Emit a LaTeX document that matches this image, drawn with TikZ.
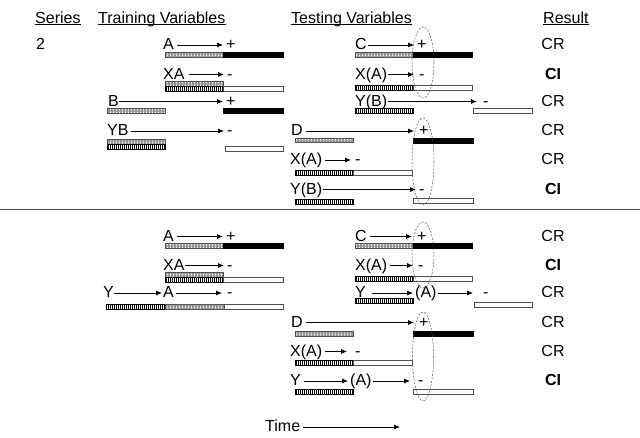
\documentclass[tikz,border=0pt]{standalone}
\usepackage{fontspec}
\setmainfont{Liberation Sans}
\usetikzlibrary{arrows.meta,patterns.meta}
\definecolor{cuegray}{RGB}{150,150,150}
\definecolor{rimgray}{RGB}{80,80,80}

\begin{document}
\begin{tikzpicture}[x=1pt, y=-1pt,
  font=\fontsize{16}{19}\selectfont,
  lbl/.style={inner sep=0pt, anchor=west, text height=9pt, text depth=0pt},
  res/.style={inner sep=0pt, text height=9pt, text depth=0pt},
  hdr/.style={inner sep=0pt, anchor=base west, text height=11.5pt, text depth=1.6pt},
  arr/.style={-{Latex[length=6pt,width=5pt]}, line width=0.75pt, shorten <=3pt, shorten >=3pt},
  cuebar/.style={draw=rimgray, line width=0.5pt, preaction={fill=white},
              pattern={Hatch[distance=1.5pt,line width=0.3pt]}, pattern color=cuegray},
  tgtbar/.style={draw=black, line width=0.5pt, preaction={fill=white},
              pattern={Lines[angle=90,distance=2pt,line width=1pt]}, pattern color=black},
  posbar/.style={draw=black, fill=black},
  negbar/.style={draw=rimgray, line width=0.6pt, fill=white},
  ringline/.style={draw=rimgray, dash pattern=on 2pt off 1.5pt, line width=0.5pt}
]
\useasboundingbox (0,0) rectangle (640,437);

\node[hdr] (hSer) at (35,23) {Series};
\node[hdr] (hTr) at (98,23) {Training Variables};
\node[hdr] (hTe) at (291,23) {Testing Variables};
\node[hdr] (hRes) at (543,23) {Result};
\draw[line width=0.8pt] (hSer.south west) -- (hSer.south east);
\draw[line width=0.8pt] (hTr.south west) -- (hTr.south east);
\draw[line width=0.8pt] (hTe.south west) -- (hTe.south east);
\draw[line width=0.8pt] (hRes.south west) -- (hRes.south east);
\node[lbl] (ser) at (36,45) {2};

\node[lbl] (utr1) at (163,45) {A};
\node[lbl] (utr1m) at (226,45) {+};
\node[lbl] (utr2) at (163,74.5) {XA};
\node[lbl] (utr2m) at (227,74.5) {-};
\node[lbl] (utr3) at (108,101.5) {B};
\node[lbl] (utr3m) at (226,101.5) {+};
\node[lbl] (utr4) at (107,131) {YB};
\node[lbl] (utr4m) at (227,131) {-};

\node[lbl] (ute1) at (355,45) {C};
\node[lbl] (ute1m) at (417,45) {+};
\node[lbl] (ute2) at (355,74.5) {X(A)};
\node[lbl] (ute2m) at (419,74.5) {-};
\node[lbl] (ute3) at (355,101.5) {Y(B)};
\node[lbl] (ute3m) at (483,101.5) {-};
\node[lbl] (ute4) at (291,131) {D};
\node[lbl] (ute4m) at (419,131) {+};
\node[lbl] (ute5) at (290,160) {X(A)};
\node[lbl] (ute5m) at (355,160) {-};
\node[lbl] (ute6) at (290,189.5) {Y(B)};
\node[lbl] (ute6m) at (419,189.5) {-};

\node[res] (ures1) at (553,45) {CR};
\node[res, font=\fontsize{16}{19}\selectfont\bfseries] (ures2) at (553,74.5) {CI};
\node[res] (ures3) at (553,101.5) {CR};
\node[res] (ures4) at (553,131) {CR};
\node[res] (ures5) at (553,160) {CR};
\node[res, font=\fontsize{16}{19}\selectfont\bfseries] (ures6) at (553,189.5) {CI};

\draw[arr] (utr1) -- (utr1m);
\draw[arr, shorten <=4pt] (utr2) -- (utr2m);
\draw[arr, shorten <=0pt] (utr3) -- (utr3m);
\draw[arr, shorten <=2pt] (utr4) -- (utr4m);
\draw[arr, shorten <=1pt] (ute1) -- (ute1m);
\draw[arr, shorten <=1pt, shorten >=5pt] (ute2) -- (ute2m);
\draw[arr, shorten <=1pt, shorten >=6pt] (ute3) -- (ute3m);
\draw[arr, shorten >=5pt] (ute4) -- (ute4m);
\draw[arr, shorten >=4pt] (ute5) -- (ute5m);
\draw[arr, shorten <=1pt] (ute6) -- (ute6m);

\draw[cuebar] (165,52) rectangle (223,57);
\draw[posbar] (223,52) rectangle (283,57);
\draw[cuebar] (165,81.5) rectangle (223,86.5);
\draw[tgtbar] (165,86.5) rectangle (223,91.5);
\draw[negbar] (223,86.5) rectangle (283,91.5);
\draw[cuebar] (107,108) rectangle (165,113);
\draw[posbar] (223,108) rectangle (283,113);
\draw[cuebar] (107,139.5) rectangle (165,144);
\draw[tgtbar] (107,144) rectangle (165,149);
\draw[negbar] (225,146) rectangle (283,151);

\draw[cuebar] (355,52) rectangle (413,57);
\draw[posbar] (413,52) rectangle (472,57);
\draw[tgtbar] (355,85) rectangle (413,90);
\draw[negbar] (413,85) rectangle (472,90);
\draw[tgtbar] (355,108) rectangle (413,113);
\draw[negbar] (473,108.5) rectangle (532,113.5);
\draw[cuebar] (295,138) rectangle (353,142.5);
\draw[posbar] (413,138) rectangle (473,143);
\draw[tgtbar] (295,170) rectangle (353,175);
\draw[negbar] (353,170) rectangle (412,175);
\draw[tgtbar] (295,199) rectangle (353,204);
\draw[negbar] (413,198.5) rectangle (473,203.5);

\draw[ringline] (423,62.5) ellipse [x radius=11, y radius=35.5];
\draw[ringline] (423,161.5) ellipse [x radius=11, y radius=43.5];

\draw[draw=rimgray, line width=1pt] (0,209.5) -- (640,209.5);

\node[lbl] (ltr1) at (163,236.5) {A};
\node[lbl] (ltr1m) at (226,236.5) {+};
\node[lbl] (ltr2) at (163,265.5) {XA};
\node[lbl] (ltr2m) at (227,265.5) {-};
\node[lbl] (ltr3) at (103,293) {Y};
\node[lbl] (ltr3a) at (163,293) {A};
\node[lbl] (ltr3m) at (227,293) {-};

\node[lbl] (lte1) at (355,236.5) {C};
\node[lbl] (lte1m) at (417,236.5) {+};
\node[lbl] (lte2) at (355,265.5) {X(A)};
\node[lbl] (lte2m) at (418,265.5) {-};
\node[lbl] (lte3) at (355,293) {Y};
\node[lbl] (lte3a) at (415,293) {(A)};
\node[lbl] (lte3m) at (483,293) {-};
\node[lbl] (lte4) at (291,322.5) {D};
\node[lbl] (lte4m) at (419,322.5) {+};
\node[lbl] (lte5) at (290,351.5) {X(A)};
\node[lbl] (lte5m) at (355,351.5) {-};
\node[lbl] (lte6) at (290,381) {Y};
\node[lbl] (lte6a) at (350,381) {(A)};
\node[lbl] (lte6m) at (418,381) {-};

\node[res] (lres1) at (553,236.5) {CR};
\node[res, font=\fontsize{16}{19}\selectfont\bfseries] (lres2) at (553,265.5) {CI};
\node[res] (lres3) at (553,293) {CR};
\node[res] (lres4) at (553,322.5) {CR};
\node[res] (lres5) at (553,351.5) {CR};
\node[res, font=\fontsize{16}{19}\selectfont\bfseries] (lres6) at (553,381) {CI};

\draw[arr] (ltr1) -- (ltr1m);
\draw[arr, shorten <=0pt] (ltr2) -- (ltr2m);
\draw[arr, shorten <=0pt, shorten >=1pt] (ltr3) -- (ltr3a);
\draw[arr, shorten <=2pt, shorten >=5pt] (ltr3a) -- (ltr3m);
\draw[arr, shorten >=5pt] (lte1) -- (lte1m);
\draw[arr, shorten >=5pt] (lte2) -- (lte2m);
\draw[arr, shorten <=6pt, shorten >=2pt] (lte3) -- (lte3a);
\draw[arr, shorten <=1pt, shorten >=10pt] (lte3a) -- (lte3m);
\draw[arr, shorten >=5pt] (lte4) -- (lte4m);
\draw[arr, shorten >=8pt] (lte5) -- (lte5m);
\draw[arr, shorten >=2pt] (lte6) -- (lte6a);
\draw[arr, shorten <=1pt, shorten >=8pt] (lte6a) -- (lte6m);

\draw[cuebar] (165,243) rectangle (223,248);
\draw[posbar] (223,243) rectangle (283,248);
\draw[cuebar] (165,272.5) rectangle (223,277.5);
\draw[tgtbar] (165,277.5) rectangle (223,282.5);
\draw[negbar] (223,277.5) rectangle (283,282.5);
\draw[tgtbar] (106,304) rectangle (165,309);
\draw[cuebar] (165,304) rectangle (224,309);
\draw[negbar] (224,304) rectangle (283,309);

\draw[cuebar] (355,243) rectangle (413,248);
\draw[posbar] (413,243) rectangle (472,248);
\draw[tgtbar] (355,276) rectangle (413,281);
\draw[negbar] (413,276) rectangle (472,281);
\draw[tgtbar] (355,298) rectangle (413,303);
\draw[negbar] (474,302) rectangle (532,307);
\draw[cuebar] (295,331.5) rectangle (353,336);
\draw[posbar] (413,331) rectangle (473,336);
\draw[tgtbar] (295,360) rectangle (353,365);
\draw[negbar] (353,360) rectangle (412,365);
\draw[tgtbar] (295,389) rectangle (353,394);
\draw[negbar] (413,389) rectangle (473,394);

\draw[ringline] (423,255) ellipse [x radius=11, y radius=33];
\draw[ringline] (423,356.5) ellipse [x radius=10.5, y radius=44.5];

\node[lbl] (time) at (265,427) {Time};
\coordinate (timeEnd) at (400,427);
\draw[arr, shorten >=0pt] (time) -- (timeEnd);
\end{tikzpicture}
\end{document}
